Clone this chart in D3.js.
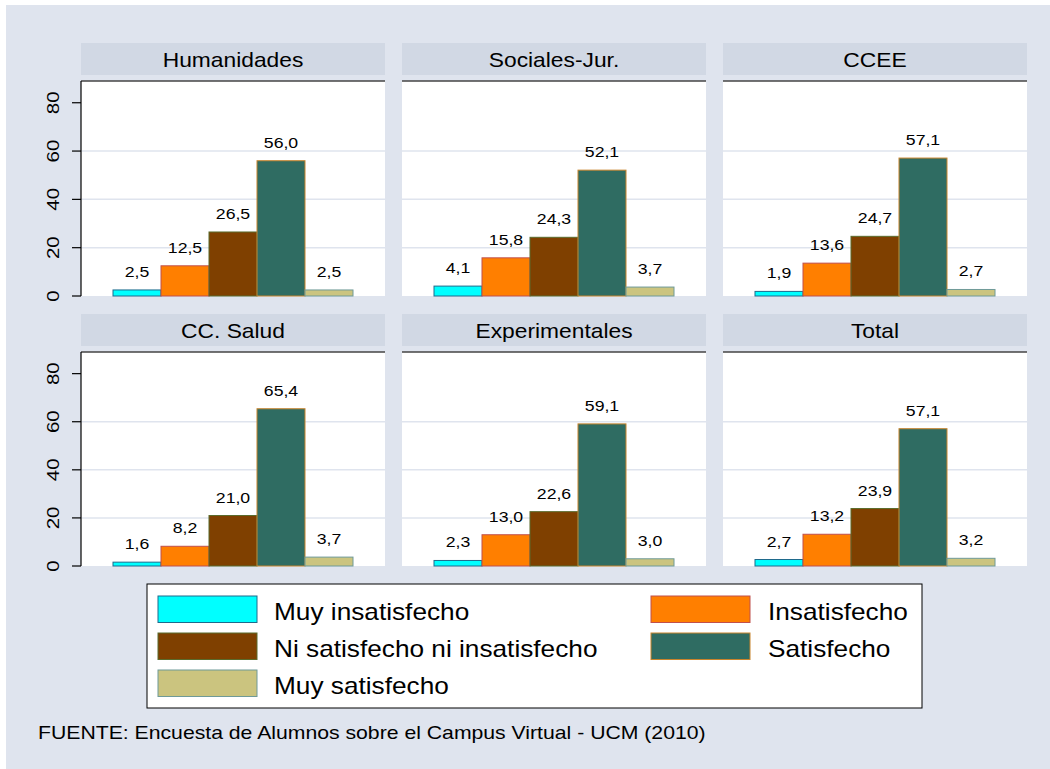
<!DOCTYPE html>
<html>
<head>
<meta charset="utf-8">
<script src="https://cdn.jsdelivr.net/npm/d3@7"></script>
<style>
  html, body { margin: 0; padding: 0; background: #ffffff; }
  svg { display: block; }
  text { font-family: "Liberation Sans", Arial, sans-serif; fill: #000; }
</style>
</head>
<body>
<svg id="chart" width="1050" height="769"></svg>
<script>
// ---------------- DATA ----------------
const panels = ["Humanidades", "Sociales-Jur.", "CCEE", "CC. Salud", "Experimentales", "Total"];
const seriesNames = ["Muy insatisfecho", "Insatisfecho", "Ni satisfecho ni insatisfecho", "Satisfecho", "Muy satisfecho"];
const muyInsatisfecho = [2.5, 4.1, 1.9, 1.6, 2.3, 2.7];
const insatisfecho    = [12.5, 15.8, 13.6, 8.2, 13.0, 13.2];
const niSatNiInsat    = [26.5, 24.3, 24.7, 21.0, 22.6, 23.9];
const satisfecho      = [56.0, 52.1, 57.1, 65.4, 59.1, 57.1];
const muySatisfecho   = [2.5, 3.7, 2.7, 3.7, 3.0, 3.2];
const yTicks = [0, 20, 40, 60, 80];
const gridTicks = [20, 40, 60];
const footnote = "FUENTE: Encuesta de Alumnos sobre el Campus Virtual - UCM (2010)";

const seriesValues = [muyInsatisfecho, insatisfecho, niSatNiInsat, satisfecho, muySatisfecho];
const fills   = ["#00ffff", "#ff7f00", "#7f4000", "#2f6c62", "#cbc47f"];
const strokes = ["#1f6a8c", "#c0504d", "#5b6b2c", "#c8842c", "#6f9a98"];

// ---------------- LAYOUT ----------------
const SX = 1.14; // horizontal text stretch
const svg = d3.select("#chart");
svg.append("rect").attr("x", 0).attr("y", 0).attr("width", 1050).attr("height", 769).attr("fill", "#ffffff");
svg.append("rect").attr("x", 6).attr("y", 5).attr("width", 1044).attr("height", 764).attr("fill", "#dfe4ee");

const colX = [81, 402, 723];
const panelW = 304;
const rows = [{ headY: 43, top: 81, bottom: 296 }, { headY: 314, top: 352, bottom: 566 }];
const headH = 32;

const fmt = v => d3.format(".1f")(v).replace(".", ",");

function stretchedText(g, x, y, str, size, anchor) {
  return g.append("text")
    .attr("transform", `translate(${x},${y}) scale(${SX},1)`)
    .attr("text-anchor", anchor || "start")
    .style("font-size", size + "px")
    .text(str);
}

panels.forEach((name, i) => {
  const r = rows[Math.floor(i / 3)];
  const c = i % 3;
  const x0 = colX[c];
  const g = svg.append("g");

  const y = d3.scaleLinear().domain([0, 89]).range([r.bottom, r.top]);
  const x = d3.scaleBand().domain(seriesNames).range([x0 + 32, x0 + panelW - 32]).padding(0);

  // header strip
  g.append("rect").attr("x", x0).attr("y", r.headY).attr("width", panelW).attr("height", headH).attr("fill", "#d1d8e4");
  stretchedText(g, x0 + panelW / 2, r.headY + headH / 2 + 7.5, name, 20, "middle");

  // plot area
  g.append("rect").attr("x", x0).attr("y", r.top).attr("width", panelW).attr("height", r.bottom - r.top).attr("fill", "#ffffff");
  // gridlines
  g.selectAll("line.grid").data(gridTicks).enter().append("line")
    .attr("x1", x0).attr("x2", x0 + panelW)
    .attr("y1", d => y(d)).attr("y2", d => y(d))
    .attr("stroke", "#dfe4ee").attr("stroke-width", 1.5);
  // top border
  g.append("line").attr("x1", x0).attr("x2", x0 + panelW).attr("y1", r.top).attr("y2", r.top)
    .attr("stroke", "#444444").attr("stroke-width", 1.5);

  // bars
  const data = seriesNames.map((s, k) => ({ s, k, v: seriesValues[k][i] }));
  g.selectAll("rect.bar").data(data).enter().append("rect")
    .attr("x", d => x(d.s)).attr("width", x.bandwidth())
    .attr("y", d => y(d.v)).attr("height", d => y(0) - y(d.v))
    .attr("fill", d => fills[d.k]).attr("stroke", d => strokes[d.k]).attr("stroke-width", 1);
  data.forEach(d => {
    stretchedText(g, x(d.s) + x.bandwidth() / 2, y(d.v) - 13, fmt(d.v), 15.5, "middle");
  });

  // y axis only for first column
  if (c === 0) {
    g.append("line").attr("x1", x0).attr("x2", x0).attr("y1", r.top).attr("y2", r.bottom)
      .attr("stroke", "#000").attr("stroke-width", 1.2);
    yTicks.forEach(t => {
      g.append("line").attr("x1", x0 - 9).attr("x2", x0).attr("y1", y(t)).attr("y2", y(t))
        .attr("stroke", "#000").attr("stroke-width", 1.2);
      g.append("text")
        .attr("transform", `translate(${x0 - 22},${y(t)}) rotate(-90) scale(1,0.8)`)
        .attr("text-anchor", "middle")
        .style("font-size", "20.5px")
        .text(t);
    });
  }
});

// legend
const leg = svg.append("g");
leg.append("rect").attr("x", 147).attr("y", 584).attr("width", 775).attr("height", 124)
  .attr("fill", "#ffffff").attr("stroke", "#000").attr("stroke-width", 1);
const legPos = [
  { col: 0, row: 0 }, { col: 1, row: 0 }, { col: 0, row: 1 }, { col: 1, row: 1 }, { col: 0, row: 2 }
];
const swX = [158, 651], txX = [274, 768], rowY = [596, 633, 670];
seriesNames.forEach((s, k) => {
  const p = legPos[k];
  leg.append("rect").attr("x", swX[p.col]).attr("y", rowY[p.row]).attr("width", 99).attr("height", 26.5)
    .attr("fill", fills[k]).attr("stroke", strokes[k]).attr("stroke-width", 1);
  stretchedText(leg, txX[p.col], rowY[p.row] + 13.25 + 10.3, s, 23, "start");
});

// footnote
stretchedText(svg, 38, 738.5, footnote, 18.6, "start");
</script>
</body>
</html>
